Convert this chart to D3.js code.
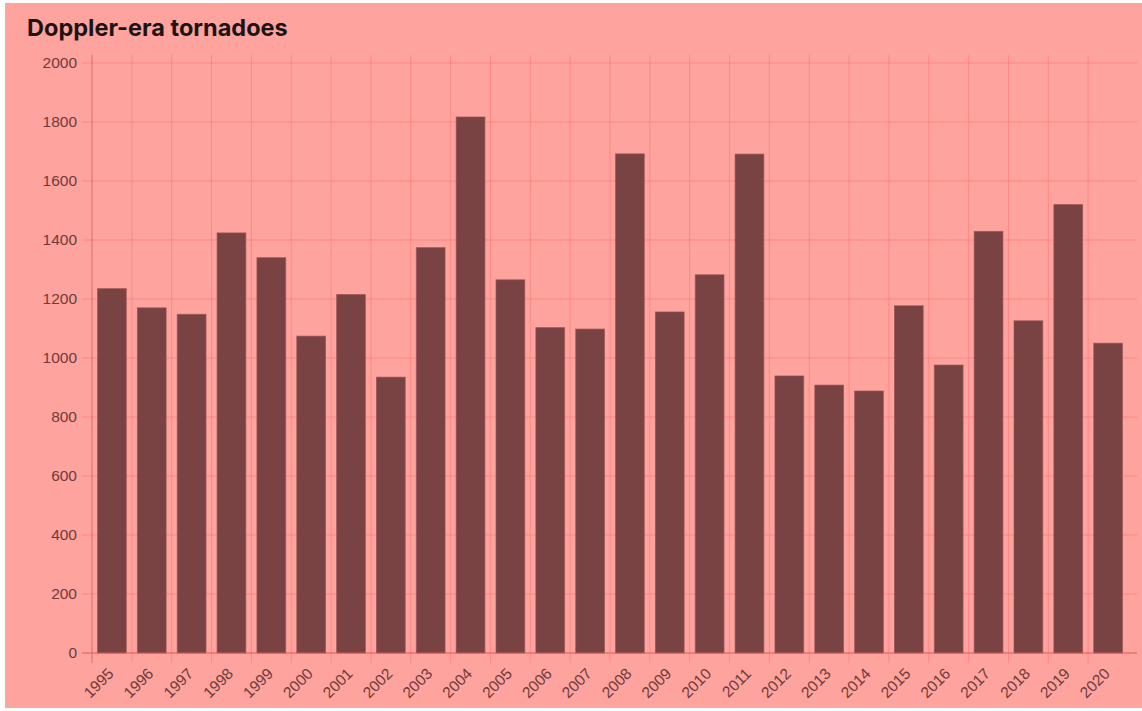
<!DOCTYPE html>
<html>
<head>
<meta charset="utf-8">
<script src="https://cdn.jsdelivr.net/npm/d3@7"></script>
<style>
  html, body { margin: 0; padding: 0; background: #fff; }
  svg { display: block; }
</style>
</head>
<body>
<svg id="chart" width="1142" height="711"></svg>
<script>
// データ
var years = ['1995','1996','1997','1998','1999','2000','2001','2002','2003','2004','2005','2006','2007',
             '2008','2009','2010','2011','2012','2013','2014','2015','2016','2017','2018','2019','2020'];
var counts = [1235, 1170, 1148, 1424, 1340, 1074, 1215, 935, 1374, 1817, 1265, 1103, 1098,
              1692, 1156, 1282, 1691, 939, 908, 888, 1177, 976, 1429, 1126, 1520, 1050];
var yTicks = [0, 200, 400, 600, 800, 1000, 1200, 1400, 1600, 1800, 2000];

// 設定
var W = 1142, H = 711;
var left = 92, right = 1128, gridRight = 1137;
var top0 = 63, bottom = 653, plotTop = 55;
var textColor = '#6e3b3b';
var gridColor = 'rgba(255,110,110,0.5)';
var axisColor = 'rgba(215,90,90,0.8)';
var tickFont = 'Liberation Sans, Arial, sans-serif';

var svg = d3.select('#chart');

// 背景
svg.append('rect')
    .attr('x', 5).attr('y', 3)
    .attr('width', W - 5).attr('height', H - 6)
    .attr('fill', '#ffa39e');

// タイトル
svg.append('text')
    .attr('x', 27).attr('y', 36)
    .attr('font-family', 'Inter, sans-serif')
    .attr('font-weight', 700)
    .attr('font-size', 23.5)
    .attr('fill', '#1c1414')
    .text('Doppler-era tornadoes');

var x = d3.scaleBand().domain(years).range([left, right]).paddingInner(0.28).paddingOuter(0.14);
var y = d3.scaleLinear().domain([0, 2000]).range([bottom, top0]);

// グリッド（横）
svg.append('g').selectAll('line').data(yTicks).join('line')
    .attr('x1', left - 10).attr('x2', gridRight)
    .attr('y1', d => y(d)).attr('y2', d => y(d))
    .attr('stroke', gridColor).attr('stroke-width', 1);

// グリッド（縦）: バンド境界
var step = x.step();
var bounds = years.map((d, i) => left + i * step);
svg.append('g').selectAll('line').data(bounds.slice(1)).join('line')
    .attr('x1', d => d).attr('x2', d => d)
    .attr('y1', plotTop).attr('y2', bottom + 10)
    .attr('stroke', gridColor).attr('stroke-width', 1);

// バー
svg.append('g').selectAll('rect').data(years).join('rect')
    .attr('x', d => x(d))
    .attr('width', x.bandwidth())
    .attr('y', (d, i) => y(counts[i]))
    .attr('height', (d, i) => bottom - y(counts[i]))
    .attr('fill', '#794343')
    .attr('stroke', 'rgba(150,80,80,0.7)')
    .attr('stroke-width', 1);

// 軸線
svg.append('line')
    .attr('x1', left).attr('x2', left)
    .attr('y1', plotTop).attr('y2', bottom + 10)
    .attr('stroke', axisColor).attr('stroke-width', 1);
svg.append('line')
    .attr('x1', left - 10).attr('x2', gridRight)
    .attr('y1', bottom).attr('y2', bottom)
    .attr('stroke', axisColor).attr('stroke-width', 1);

// Y目盛りラベル
svg.append('g').selectAll('text').data(yTicks).join('text')
    .attr('x', left - 15)
    .attr('y', d => y(d))
    .attr('dy', '0.35em')
    .attr('text-anchor', 'end')
    .attr('font-family', tickFont)
    .attr('font-size', 15.5)
    .attr('fill', textColor)
    .text(d => d);

// X目盛りラベル（-45度）
svg.append('g').selectAll('text').data(years).join('text')
    .attr('transform', d => 'translate(' + (x(d) + x.bandwidth() / 2 - 5) + ',' + (bottom + 14) + ') rotate(-45)')
    .attr('text-anchor', 'end')
    .attr('dy', '0.7em')
    .attr('font-family', tickFont)
    .attr('font-size', 15.5)
    .attr('fill', textColor)
    .text(d => d);
</script>
</body>
</html>
